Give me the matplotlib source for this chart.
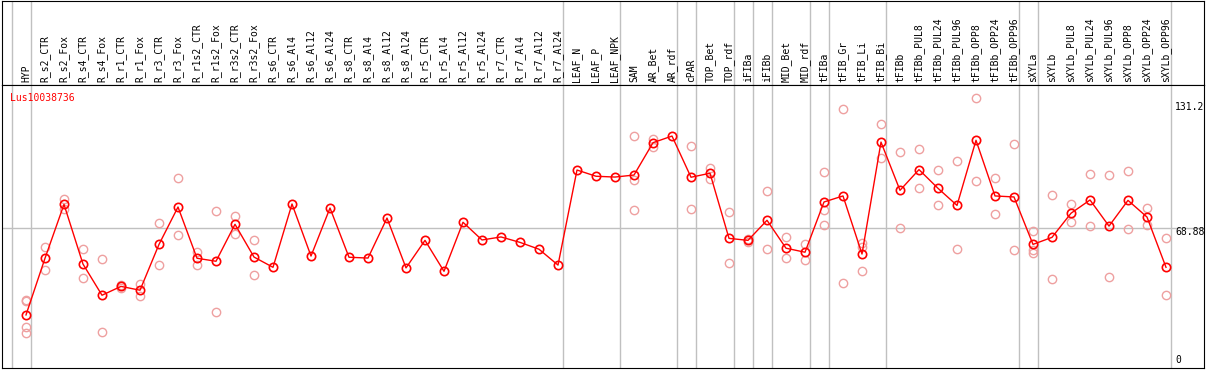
import numpy as np
import matplotlib
matplotlib.use("Agg")
import matplotlib.pyplot as plt

# sample names (one column each)
samples = ["HYP", "R_s2_CTR", "R_s2_Fox", "R_s4_CTR", "R_s4_Fox", "R_r1_CTR", "R_r1_Fox",
           "R_r3_CTR", "R_r3_Fox", "R_r1s2_CTR", "R_r1s2_Fox", "R_r3s2_CTR", "R_r3s2_Fox",
           "R_s6_CTR", "R_s6_Al4", "R_s6_Al12", "R_s6_Al24", "R_s8_CTR", "R_s8_Al4",
           "R_s8_Al12", "R_s8_Al24", "R_r5_CTR", "R_r5_Al4", "R_r5_Al12", "R_r5_Al24",
           "R_r7_CTR", "R_r7_Al4", "R_r7_Al12", "R_r7_Al24", "LEAF_N", "LEAF_P", "LEAF_NPK",
           "SAM", "AR_Bet", "AR_rdf", "cPAR", "TOP_Bet", "TOP_rdf", "iFIBa", "iFIBb",
           "MID_Bet", "MID_rdf", "tFIBa", "tFIB_Gr", "tFIB_Li", "tFIB_Bi", "tFIBb",
           "tFIBb_PUL8", "tFIBb_PUL24", "tFIBb_PUL96", "tFIBb_OPP8", "tFIBb_OPP24",
           "tFIBb_OPP96", "sXYLa", "sXYLb", "sXYLb_PUL8", "sXYLb_PUL24", "sXYLb_PUL96",
           "sXYLb_OPP8", "sXYLb_OPP24", "sXYLb_OPP96"]

# mean expression per sample
means = [25.8, 54.0, 80.8, 51.1, 35.6, 40.0, 38.1, 60.9, 79.5, 54.0, 52.5, 70.9, 54.6,
         49.5, 81.0, 55.1, 79.0, 54.5, 54.1, 74.0, 49.2, 62.9, 47.5, 71.9, 63.1,
         64.6, 61.9, 58.5, 50.6, 97.9, 94.8, 94.4,
         95.4, 111.5, 114.8, 94.3, 96.3, 63.9, 62.9, 72.9, 59.0, 57.0,
         82.0, 85.0, 56.1, 111.8, 87.8, 98.1, 88.8, 80.3, 112.7, 85.0, 84.5,
         60.9, 64.4, 76.4, 83.0, 70.0, 82.8, 74.5, 49.5]

# individual replicates (empty where none shown)
replicates = [
    [33.4, 32.6, 19.7, 16.8], [59.6, 48.0], [83.5, 78.4], [58.6, 44.0], [53.5, 17.2],
    [40.6, 39.4], [41.0, 35.4], [71.4, 50.5], [93.8, 65.4], [57.3, 50.5], [77.4, 27.1],
    [74.9, 66.2], [62.9, 45.5],
    [], [], [], [], [], [], [], [], [], [], [], [], [], [], [], [],
    [], [], [],
    [114.7, 92.9, 77.9], [113.2, 109.5], [], [109.7, 78.5], [98.8, 93.6], [76.9, 51.6],
    [63.5, 62.3], [87.3, 58.6], [64.6, 54.0], [61.1, 53.0],
    [96.8, 78.2, 70.4], [128.1, 41.7], [61.4, 59.8, 47.5], [120.6, 103.7],
    [106.7, 68.9], [108.2, 88.8], [97.8, 80.3], [102.2, 58.5], [133.6, 92.3],
    [93.8, 75.9], [110.7, 58.0],
    [67.4, 58.0, 56.8], [85.3, 43.5], [80.8, 71.9], [95.8, 70.0], [95.3, 44.7],
    [97.4, 68.4], [79.0, 70.4], [63.9, 35.7],
]

# last column index of each sample group (separator lines)
group_ends = [-1, 0, 28, 31, 34, 35, 37, 38, 39, 41, 42, 45, 52, 53, 60]

gene = "Lus10038736"
axis_marks = [131.2, 68.88, 0]

W, H = 1209, 370
fig = plt.figure(figsize=(W / 100, H / 100), dpi=100)
font = dict(family="DejaVu Sans Mono", fontsize=7)
grey = "#c0c0c0"

x = np.arange(len(samples))
xlim = ((2 - 26) / 19, (1204 - 26) / 19)

# header axes with the sample names
hax = fig.add_axes([2 / W, (H - 85) / H, 1202 / W, 84.5 / H])
hax.set_xlim(xlim)
hax.set_ylim(0, 1)
hax.set_xticks([])
hax.set_yticks([])
for g in group_ends:
    hax.axvline(g + 0.25, color=grey, lw=1)
for i, name in enumerate(samples):
    hax.text(i, 0.03, name, rotation=90, ha="center", va="bottom", **font)

# main plot
ax = fig.add_axes([2 / W, 2 / H, 1202 / W, 283 / H])
ax.set_xlim(xlim)
ax.set_ylim(-0.6, 140.2)
ax.set_xticks([])
ax.set_yticks([])
for g in group_ends:
    ax.axvline(g + 0.25, color=grey, lw=1, zorder=1)
ax.axhline(axis_marks[1], color=grey, lw=1, zorder=1)

for i, reps in enumerate(replicates):
    if reps:
        ax.plot([i] * len(reps), reps, linestyle="none", marker="o", markersize=6,
                markerfacecolor="none", markeredgecolor="#eea0a0", markeredgewidth=1.0, zorder=2)

ax.plot(x, means, color="red", lw=1, marker="o", markersize=6,
        markerfacecolor="none", markeredgecolor="red", markeredgewidth=1.2, zorder=3)

# gene name in the top-left corner (x in data, y in axes units)
ax.text(-0.84, 1.0 - 13 / 283, gene, color="red", transform=ax.get_xaxis_transform(),
        ha="left", va="center", **font)
for v in axis_marks[:2]:
    ax.annotate(f"{v:g}", xy=(60.47, v), xytext=(0, -2.6), textcoords="offset points",
                ha="left", va="center", **font)
ax.annotate("0", xy=(60.47, axis_marks[2]), xytext=(0, 5), textcoords="offset points",
            ha="left", va="center", **font)

fig.savefig("out.png", dpi=100)
